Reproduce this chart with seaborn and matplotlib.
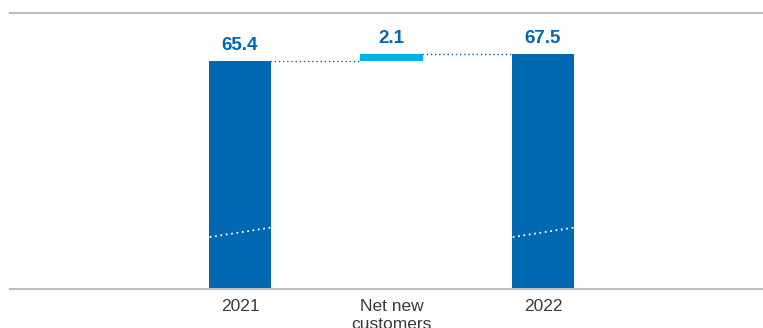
import numpy as np
import pandas as pd
import matplotlib
matplotlib.use('Agg')
import matplotlib.pyplot as plt
import seaborn as sns

# chart data
categories = ['2021', 'Net new\ncustomers', '2022']
start_total = 65.4
net_new = 2.1
end_total = 67.5

dark_blue = '#0067B1'
light_blue = '#00B2E6'
grey_line = '#BDBDBD'

sns.set_theme(style='white')
plt.rcParams['font.family'] = ['Liberation Sans', 'DejaVu Sans']

fig = plt.figure(figsize=(7.63, 3.28), dpi=100)
ax = fig.add_axes([10 / 763, 39 / 328, 753 / 763, 276 / 328])

totals = pd.DataFrame({'cat': [categories[0], categories[2]],
                       'value': [start_total, end_total]})
delta = pd.DataFrame({'cat': [categories[1]], 'value': [net_new]})

sns.barplot(data=totals, x='cat', y='value', order=categories, color=dark_blue,
            saturation=1, width=0.41, linewidth=0, ax=ax)
sns.barplot(data=delta, x='cat', y='value', order=categories, color=light_blue,
            saturation=1, width=0.41, linewidth=0, bottom=start_total, ax=ax)

ax.set_xlim(-1.518, 3.452)
ax.set_ylim(0, 79.2)

# dotted connectors between bars
ax.plot([0.2, 0.8], [start_total, start_total], color=dark_blue, lw=1,
        linestyle=(0, (1, 2)))
ax.plot([1.2, 1.8], [end_total, end_total], color=dark_blue, lw=1,
        linestyle=(0, (1, 2)))

# white axis-break marks inside the total bars
for x in (0, 2):
    ax.plot([x - 0.2, x + 0.2], [14.9, 17.6], color='white', lw=1.3,
            linestyle=(0, (1, 2)))

# value labels
tops = [start_total, start_total + net_new, end_total]
labels = [start_total, net_new, end_total]
for i, (top, val) in enumerate(zip(tops, labels)):
    ax.annotate(f'{val:.1f}', xy=(i, top), xytext=(0, 5),
                textcoords='offset points', ha='center', va='bottom',
                fontsize=13.5, fontweight='bold', color=dark_blue)

ax.set_xlabel('')
ax.set_ylabel('')
ax.set_yticks([])
ax.tick_params(axis='x', length=0, pad=7.5, labelsize=12.5, labelcolor='#3a3a3a')

for side in ('left', 'right'):
    ax.spines[side].set_visible(False)
for side in ('top', 'bottom'):
    ax.spines[side].set_visible(True)
    ax.spines[side].set_color(grey_line)
    ax.spines[side].set_linewidth(1.5)

fig.savefig('out.png', dpi=100)
